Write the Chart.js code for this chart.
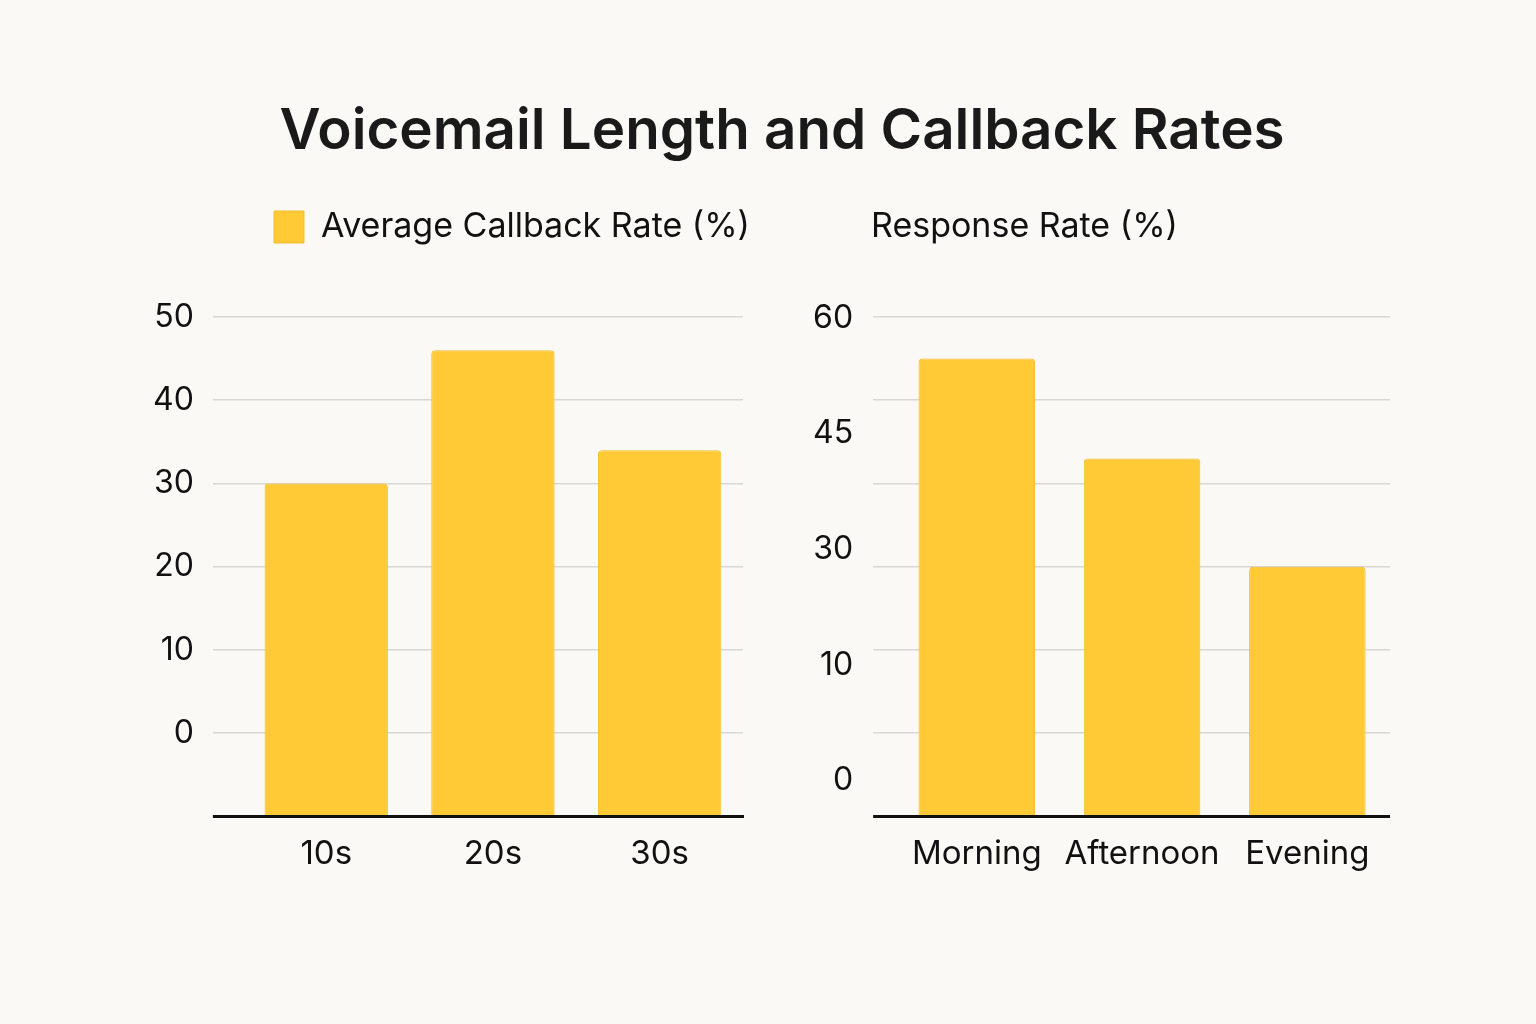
<!DOCTYPE html>
<html><head><meta charset="utf-8">
<script src="https://cdn.jsdelivr.net/npm/chart.js@4.4.1/dist/chart.umd.min.js"></script>
<style>
html,body{margin:0;padding:0;background:#FBF9F5;}
body{width:1536px;height:1024px;position:relative;overflow:hidden;font-family:Inter,sans-serif;}
#title{position:absolute;left:14px;width:1536px;top:101px;text-align:center;font-size:56.5px;font-weight:600;line-height:1;color:#1A1A1A;white-space:nowrap;}
canvas{position:absolute;}
#left{left:100px;top:200px;}
#right{left:801px;top:157px;}
</style></head><body>
<div id="title"></div>
<canvas id="left" width="660" height="694"></canvas>
<canvas id="right" width="589" height="737"></canvas>
<script>
const chartTitle = 'Voicemail Length and Callback Rates';
const lengthCategories = ['10s', '20s', '30s'];
const callbackRates = [30, 46, 34];
const callbackLabel = 'Average Callback Rate (%)';
const timeCategories = ['Morning', 'Afternoon', 'Evening'];
const responseRates = [55, 43, 30];
const responseLabel = 'Response Rate (%)';
const responseTickLabels = ['0', '10', '30', '45', '60'];

document.getElementById('title').textContent = chartTitle;

Chart.defaults.font.family = 'Inter, sans-serif';
Chart.defaults.color = '#111111';
const BAR = '#FFCA35', BAR_EDGE = '#F3BD2B', GRID = '#D9D7D3', AXIS = '#111111';

function makeGap(extra) {
  return {
    id: 'legendGap',
    beforeInit(chart) {
      const fit = chart.legend.fit;
      chart.legend.fit = function () { fit.call(this); this.height += extra; };
    }
  };
}

const xAxis = {
  grid: { display: false },
  border: { display: true, color: AXIS, width: 3, z: 1 },
  ticks: { font: { size: 33 }, padding: 10, color: '#111111' }
};

new Chart(document.getElementById('left'), {
  type: 'bar',
  data: {
    labels: lengthCategories,
    datasets: [{
      label: callbackLabel, data: callbackRates, base: -10,
      backgroundColor: BAR, borderColor: BAR_EDGE, borderWidth: 1, borderRadius: 4,
      borderSkipped: 'bottom', categoryPercentage: 1, barPercentage: 0.74
    }]
  },
  options: {
    responsive: false, animation: false, devicePixelRatio: 1,
    layout: { padding: { left: 34, right: 0, top: 0, bottom: 10 } },
    plugins: {
      legend: { display: true, position: 'top', align: 'end',
        labels: { boxWidth: 30, boxHeight: 32, padding: 10, font: { size: 34 }, color: '#111111' } },
      tooltip: { enabled: false }
    },
    scales: {
      x: xAxis,
      y: {
        min: -10, max: 50,
        ticks: { stepSize: 10, font: { size: 32 }, padding: 19, color: '#111111', callback: v => v < 0 ? '' : v },
        grid: { color: c => c.tick && c.tick.value === -10 ? AXIS : GRID,
                lineWidth: c => c.tick && c.tick.value === -10 ? 3 : 1.5, tickLength: 30 },
        border: { display: false }
      },
      yr: {
        type: 'linear', position: 'right',
        grid: { display: true, drawOnChartArea: false, tickLength: 17, color: 'rgba(0,0,0,0)' },
        ticks: { display: false }, border: { display: false }
      }
    }
  },
  plugins: [makeGap(63)]
});

new Chart(document.getElementById('right'), {
  type: 'bar',
  data: {
    labels: timeCategories,
    datasets: [{
      label: responseLabel, data: responseRates,
      backgroundColor: BAR, borderColor: BAR_EDGE, borderWidth: 1, borderRadius: 4,
      borderSkipped: 'bottom', categoryPercentage: 1, barPercentage: 0.705
    }]
  },
  options: {
    responsive: false, animation: false, devicePixelRatio: 1,
    layout: { padding: { left: 0, right: 0, top: 0, bottom: 10 } },
    plugins: {
      legend: { display: true, position: 'top', align: 'start',
        labels: { boxWidth: 0, boxHeight: 0, padding: 53, font: { size: 34 }, color: '#111111' } },
      tooltip: { enabled: false }
    },
    scales: {
      x: xAxis,
      y: {
        min: 0, max: 60, weight: 0,
        ticks: { stepSize: 10, display: false },
        grid: { color: c => c.tick && c.tick.value === 0 ? AXIS : GRID,
                lineWidth: c => c.tick && c.tick.value === 0 ? 3 : 1.5, tickLength: 21 },
        border: { display: false }
      },
      yl: {
        type: 'linear', position: 'left', weight: 1, min: -0.31, max: 4.01,
        afterBuildTicks: axis => { axis.ticks = responseTickLabels.map((_, i) => ({ value: i })); },
        ticks: { font: { size: 32 }, padding: 12, color: '#111111', callback: (v, i) => responseTickLabels[i] },
        grid: { display: false }, border: { display: false }
      }
    }
  },
  plugins: [makeGap(63)]
});
</script>
</body></html>
